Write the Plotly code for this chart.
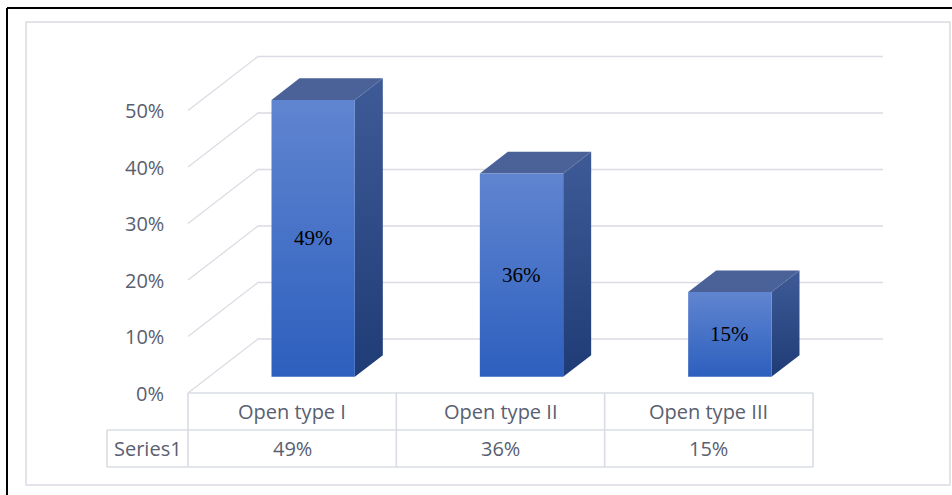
import plotly.graph_objects as go

# ---- data ----
categories = ["Open type I", "Open type II", "Open type III"]
values = [49, 36, 15]
series_name = "Series1"
y_ticks = [0, 10, 20, 30, 40, 50]

# ---- geometry (data units) ----
W, H = 952, 495
PX_X = 208.33      # px per category column
PX_Y = 5.65        # px per 1 %
X0_PX, Y0_PX = 188, 393
DX, DY = 70 / PX_X, 54 / PX_Y      # wall depth offset
D0, D1 = 0.3, 0.7                  # bar depth start/end (fraction)
BAR_W = 0.4
ROW_H = 37 / PX_Y
LEFT_CELL = -81 / PX_X
N = len(categories)

GRID = "#D9DCE3"
TXT = "#596070"
FONT = "Open Sans, Noto Sans, sans-serif"
FS = 20

fig = go.Figure()

# gridlines (side wall diagonals + back wall)
gx, gy = [], []
for v in y_ticks:
    gx += [0, DX, N + DX, None]
    gy += [v, v + DY, v + DY, None]
fig.add_trace(go.Scatter(x=gx, y=gy, mode="lines", line=dict(color=GRID, width=1.3),
                         hoverinfo="skip", showlegend=False))

# table lines
tx, ty = [], []
tx += [0, N, None]; ty += [0, 0, None]
tx += [LEFT_CELL, N, None]; ty += [-ROW_H, -ROW_H, None]
tx += [LEFT_CELL, N, None]; ty += [-2 * ROW_H, -2 * ROW_H, None]
tx += [LEFT_CELL, LEFT_CELL, None]; ty += [-ROW_H, -2 * ROW_H, None]
for i in range(N + 1):
    tx += [i, i, None]; ty += [0, -2 * ROW_H, None]
fig.add_trace(go.Scatter(x=tx, y=ty, mode="lines", line=dict(color=GRID, width=1.6),
                         hoverinfo="skip", showlegend=False))

# 3D bars
for i, v in enumerate(values):
    c = i + 0.5
    xl = c - BAR_W / 2 + D0 * DX
    xr = c + BAR_W / 2 + D0 * DX
    yb = D0 * DY
    yt = v + D0 * DY
    ddx = (D1 - D0) * DX
    ddy = (D1 - D0) * DY
    # side face
    fig.add_trace(go.Scatter(
        x=[xr, xr + ddx, xr + ddx, xr, xr], y=[yb, yb + ddy, yt + ddy, yt, yb],
        fill="toself", mode="lines", line=dict(width=0),
        fillgradient=dict(type="vertical", colorscale=[[0, "#1F3C77"], [1, "#3F5B97"]]),
        hoverinfo="skip", showlegend=False))
    # top face
    fig.add_trace(go.Scatter(
        x=[xl, xr, xr + ddx, xl + ddx, xl], y=[yt, yt, yt + ddy, yt + ddy, yt],
        fill="toself", mode="lines", line=dict(width=0), fillcolor="#4A6298",
        hoverinfo="skip", showlegend=False))
    # front face
    fig.add_trace(go.Scatter(
        x=[xl, xr, xr, xl, xl], y=[yb, yb, yt, yt, yb],
        fill="toself", mode="lines", line=dict(width=0),
        fillgradient=dict(type="vertical", colorscale=[[0, "#2D5FBE"], [1, "#6085D0"]]),
        hoverinfo="skip", showlegend=False))
    fig.add_annotation(x=(xl + xr) / 2, y=(yb + yt) / 2, text=f"{v}%", showarrow=False,
                       font=dict(family="Liberation Serif, Times New Roman, serif", size=21, color="black"),
                       xanchor="center", yanchor="middle")

# y tick labels
for v in y_ticks:
    fig.add_annotation(x=-0.105, y=v, text=f"{v}%", showarrow=False, xanchor="right", yanchor="middle",
                       font=dict(family=FONT, size=FS, color=TXT))

# table texts
for i, (cat, v) in enumerate(zip(categories, values)):
    fig.add_annotation(x=i + 0.5, y=-ROW_H / 2, text=cat, showarrow=False, xanchor="center", yanchor="middle",
                       font=dict(family=FONT, size=FS, color=TXT))
    fig.add_annotation(x=i + 0.5, y=-1.5 * ROW_H, text=f"{v}%", showarrow=False, xanchor="center",
                       yanchor="middle", font=dict(family=FONT, size=FS, color=TXT))
fig.add_annotation(x=LEFT_CELL / 2, y=-1.5 * ROW_H, text=series_name, showarrow=False, xanchor="center",
                   yanchor="middle", font=dict(family=FONT, size=FS, color=TXT))

# borders
fig.add_shape(type="rect", xref="paper", yref="paper", x0=26 / W, x1=950 / W, y0=1 - 485 / H, y1=1 - 22 / H,
              line=dict(color=GRID, width=1.5))
fig.add_shape(type="line", xref="paper", yref="paper", x0=7 / W, x1=1, y0=1 - 8 / H, y1=1 - 8 / H,
              line=dict(color="black", width=2))
fig.add_shape(type="line", xref="paper", yref="paper", x0=7 / W, x1=7 / W, y0=0, y1=1 - 8 / H,
              line=dict(color="black", width=2))

fig.update_layout(
    width=W, height=H, autosize=False,
    margin=dict(l=0, r=0, t=0, b=0),
    paper_bgcolor="white", plot_bgcolor="white",
    xaxis=dict(range=[(0 - X0_PX) / PX_X, (W - X0_PX) / PX_X], visible=False, fixedrange=True),
    yaxis=dict(range=[(Y0_PX - H) / PX_Y, Y0_PX / PX_Y], visible=False, fixedrange=True),
    showlegend=False,
)

fig.write_html("out.html")
